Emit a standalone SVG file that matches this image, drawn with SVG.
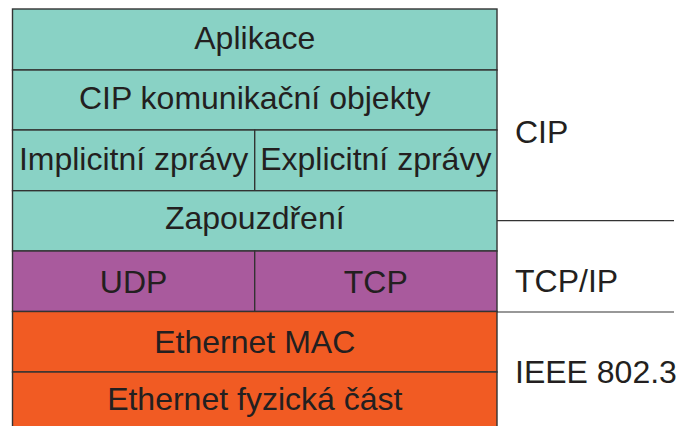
<svg xmlns="http://www.w3.org/2000/svg" width="677" height="426" viewBox="0 0 677 426">
<style>
.box{stroke:#333;stroke-width:1.4}
.cip{fill:#89d2c5}
.tcp{fill:#a95a9d}
.eth{fill:#f15b23}
text{font-family:"Liberation Sans",Arial,sans-serif;font-size:32px;fill:#231f20}
.c{text-anchor:middle}
.sep{stroke:#333;stroke-width:1.2}
</style>
<rect width="677" height="426" fill="#fff"/>
<g id="aplikace"><rect class="box cip" x="12.5" y="9" width="484.5" height="61"/><text class="c" x="254.75" y="49">Aplikace</text></g>
<g id="cip-objekty"><rect class="box cip" x="12.5" y="70" width="484.5" height="60"/><text class="c" x="254.75" y="108.5">CIP komunikační objekty</text></g>
<g id="implicitni"><rect class="box cip" x="12.5" y="130" width="242.2" height="60.7"/><text class="c" x="133.6" y="169.5">Implicitní zprávy</text></g>
<g id="explicitni"><rect class="box cip" x="254.7" y="130" width="242.3" height="60.7"/><text class="c" x="375.8" y="169.5">Explicitní zprávy</text></g>
<g id="zapouzdreni"><rect class="box cip" x="12.5" y="190.7" width="484.5" height="60.3"/><text class="c" x="254.75" y="229">Zapouzdření</text></g>
<g id="udp"><rect class="box tcp" x="12.5" y="251" width="242.2" height="60.5"/><text class="c" x="133.6" y="292.5">UDP</text></g>
<g id="tcp"><rect class="box tcp" x="254.7" y="251" width="242.3" height="60.5"/><text class="c" x="375.8" y="292.5">TCP</text></g>
<g id="eth-mac"><rect class="box eth" x="12.5" y="311.5" width="484.5" height="60.5"/><text class="c" x="254.75" y="353.3">Ethernet MAC</text></g>
<g id="eth-phy"><rect class="box eth" x="12.5" y="372" width="484.5" height="60"/><text class="c" x="254.75" y="410">Ethernet fyzická část</text></g>
<g id="connectors">
<line class="sep" x1="497" y1="220.7" x2="674" y2="220.7"/>
<line class="sep" x1="497" y1="312" x2="674" y2="312"/>
</g>
<g id="labels">
<text x="515" y="143">CIP</text>
<text x="515" y="291.7">TCP/IP</text>
<text x="515" y="383.3">IEEE 802.3</text>
</g>
</svg>
